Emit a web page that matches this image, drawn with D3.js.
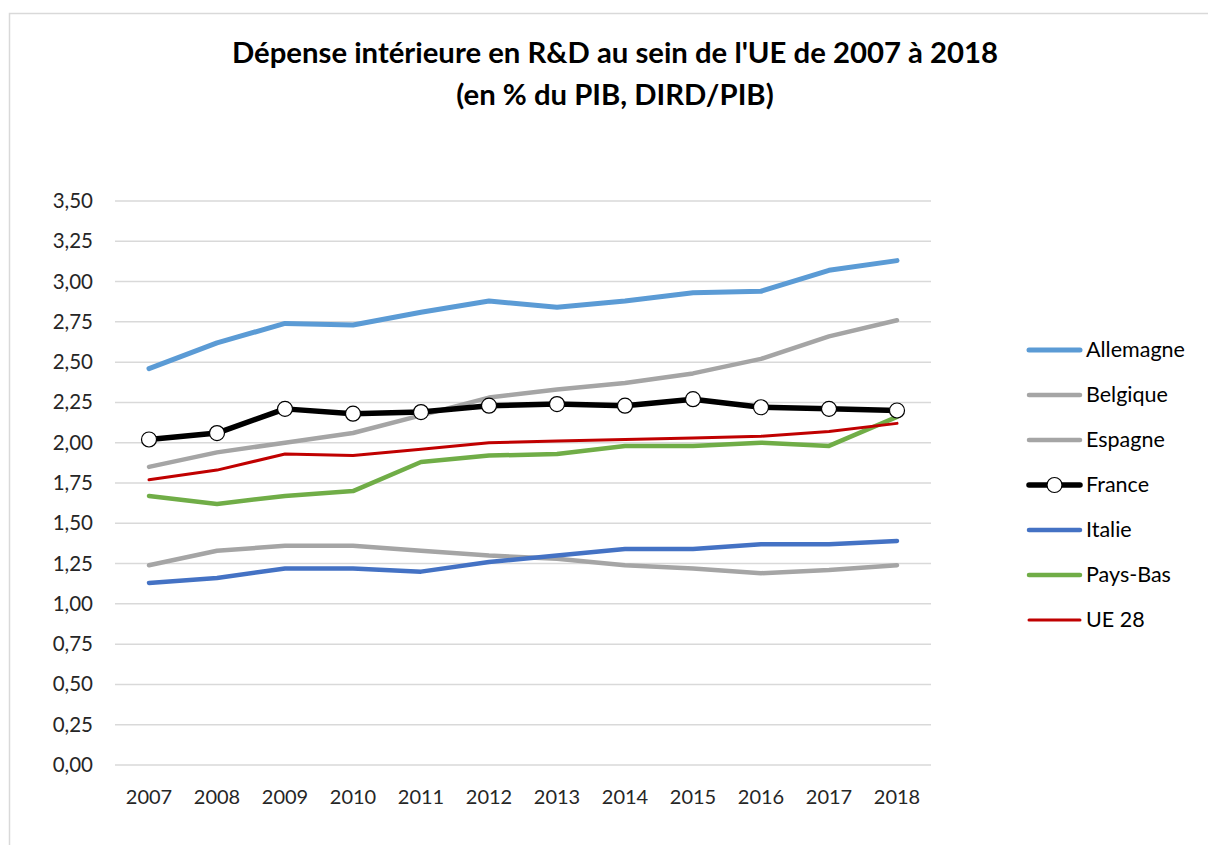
<!DOCTYPE html>
<html>
<head>
<meta charset="utf-8">
<script src="https://cdn.jsdelivr.net/npm/d3@7"></script>
<style>
  body { margin: 0; background: #fff; }
  svg { display: block; font-family: Lato, "Open Sans", sans-serif; }
</style>
</head>
<body>
<div id="chart"></div>
<script>
// data
var years = ["2007","2008","2009","2010","2011","2012","2013","2014","2015","2016","2017","2018"];
var allemagne = [2.46, 2.62, 2.74, 2.73, 2.81, 2.88, 2.84, 2.88, 2.93, 2.94, 3.07, 3.13];
var belgique  = [1.85, 1.94, 2.00, 2.06, 2.17, 2.28, 2.33, 2.37, 2.43, 2.52, 2.66, 2.76];
var espagne   = [1.24, 1.33, 1.36, 1.36, 1.33, 1.30, 1.28, 1.24, 1.22, 1.19, 1.21, 1.24];
var france    = [2.02, 2.06, 2.21, 2.18, 2.19, 2.23, 2.24, 2.23, 2.27, 2.22, 2.21, 2.20];
var italie    = [1.13, 1.16, 1.22, 1.22, 1.20, 1.26, 1.30, 1.34, 1.34, 1.37, 1.37, 1.39];
var paysBas   = [1.67, 1.62, 1.67, 1.70, 1.88, 1.92, 1.93, 1.98, 1.98, 2.00, 1.98, 2.16];
var ue28      = [1.77, 1.83, 1.93, 1.92, 1.96, 2.00, 2.01, 2.02, 2.03, 2.04, 2.07, 2.12];
var yTicks = [0, 0.25, 0.5, 0.75, 1, 1.25, 1.5, 1.75, 2, 2.25, 2.5, 2.75, 3, 3.25, 3.5];

var series = [
  {name: "Allemagne", values: allemagne, color: "#5b9bd5", width: 5},
  {name: "Belgique",  values: belgique,  color: "#a5a5a5", width: 4.5},
  {name: "Espagne",   values: espagne,   color: "#a5a5a5", width: 4.5},
  {name: "France",    values: france,    color: "#000000", width: 5.5, marker: true},
  {name: "Italie",    values: italie,    color: "#4472c4", width: 4.5},
  {name: "Pays-Bas",  values: paysBas,   color: "#70ad47", width: 4.5},
  {name: "UE 28",     values: ue28,      color: "#c00000", width: 3}
];

var width = 1208, height = 845;
var svg = d3.select("#chart").append("svg")
    .attr("width", width)
    .attr("height", height);

// chart frame
svg.append("rect")
    .attr("x", 9.5).attr("y", 13.5)
    .attr("width", 1230).attr("height", 860)
    .attr("fill", "none")
    .attr("stroke", "#d9d9d9")
    .attr("stroke-width", 1.5);

// title
var title = svg.append("text")
    .attr("text-anchor", "middle")
    .attr("font-weight", "bold")
    .attr("font-size", 29.3)
    .attr("fill", "#000");
title.append("tspan").attr("x", 615).attr("y", 63)
    .text("Dépense intérieure en R&D au sein de l'UE de 2007 à 2018");
title.append("tspan").attr("x", 615).attr("y", 105)
    .text("(en % du PIB, DIRD/PIB)");

var xScale = d3.scaleBand()
    .domain(years)
    .range([115, 931]);
var yScale = d3.scaleLinear()
    .domain([0, 3.5])
    .range([765, 201]);

// gridlines
svg.append("g").selectAll("line")
    .data(yTicks)
    .enter().append("line")
    .attr("x1", 115).attr("x2", 931)
    .attr("y1", d => yScale(d)).attr("y2", d => yScale(d))
    .attr("stroke", "#d9d9d9")
    .attr("stroke-width", 1.5);

// y axis labels
var fmt = d3.format(".2f");
svg.append("g").selectAll("text")
    .data(yTicks)
    .enter().append("text")
    .attr("x", 93)
    .attr("y", d => yScale(d) + 7)
    .attr("text-anchor", "end")
    .attr("font-size", 20.5)
    .attr("fill", "#262626")
    .text(d => fmt(d).replace(".", ","));

// x axis labels
svg.append("g").selectAll("text")
    .data(years)
    .enter().append("text")
    .attr("x", d => xScale(d) + xScale.bandwidth() / 2)
    .attr("y", 804)
    .attr("text-anchor", "middle")
    .attr("font-size", 20)
    .attr("fill", "#262626")
    .text(d => d);

var line = d3.line()
    .x((d, i) => xScale(years[i]) + xScale.bandwidth() / 2)
    .y(d => yScale(d));

// draw lines in order, UE 28 on top like the picture
var drawOrder = ["Espagne", "Italie", "Belgique", "Allemagne", "Pays-Bas", "France", "UE 28"];
drawOrder.forEach(function(n) {
    var s = series.find(d => d.name === n);
    svg.append("path")
        .datum(s.values)
        .attr("d", line)
        .attr("fill", "none")
        .attr("stroke", s.color)
        .attr("stroke-width", s.width)
        .attr("stroke-linecap", "round")
        .attr("stroke-linejoin", "round");
    if (s.marker) {
        svg.append("g").selectAll("circle")
            .data(s.values)
            .enter().append("circle")
            .attr("cx", (d, i) => xScale(years[i]) + xScale.bandwidth() / 2)
            .attr("cy", d => yScale(d))
            .attr("r", 7.5)
            .attr("fill", "#fff")
            .attr("stroke", "#000")
            .attr("stroke-width", 1.2);
    }
});

// legend
var legend = svg.append("g");
series.forEach(function(s, i) {
    var y = 350 + i * 45;
    legend.append("line")
        .attr("x1", 1029).attr("x2", 1080)
        .attr("y1", y).attr("y2", y)
        .attr("stroke", s.color)
        .attr("stroke-width", s.width)
        .attr("stroke-linecap", "round");
    if (s.marker) {
        legend.append("circle")
            .attr("cx", 1054.5).attr("cy", y)
            .attr("r", 7.5)
            .attr("fill", "#fff")
            .attr("stroke", "#000")
            .attr("stroke-width", 1.2);
    }
    legend.append("text")
        .attr("x", 1086)
        .attr("y", y + 7)
        .attr("font-size", 21.5)
        .attr("fill", "#000")
        .text(s.name);
});
</script>
</body>
</html>
